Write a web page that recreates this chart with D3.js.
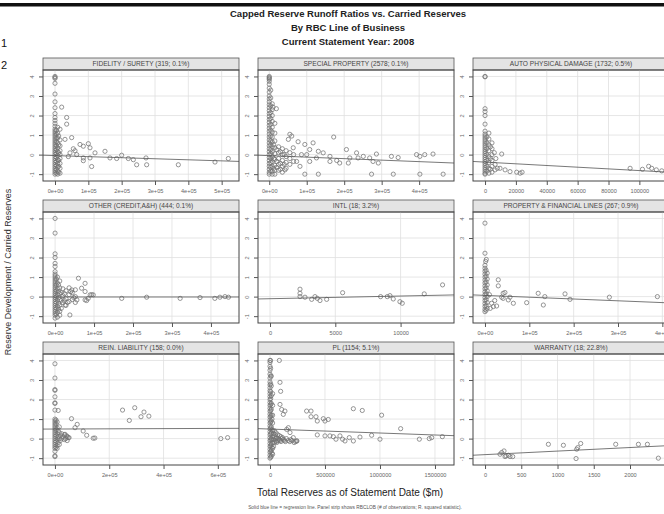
<!DOCTYPE html>
<html>
<head>
<meta charset="utf-8">
<script src="https://cdn.jsdelivr.net/npm/d3@7"></script>
<style>
  body { margin: 0; background: #fff; }
  svg { display: block; font-family: "Liberation Sans", Arial, sans-serif; }
</style>
</head>
<body>
<div id="chart"></div>
<script>
const WIDTH = 664;
const HEIGHT = 514;
const COL_X = [43, 258, 473];
const ROW_Y = [58, 200, 342];
const PANEL_W = 196;
const STRIP_H = 12;
const PLOT_H = 111;

// strip labels
const panelTitles = [
    "FIDELITY / SURETY (319; 0.1%)", "SPECIAL PROPERTY (2578; 0.1%)", "AUTO PHYSICAL DAMAGE (1732; 0.5%)",
    "OTHER (CREDIT,A&H) (444; 0.1%)", "INTL (18; 3.2%)", "PROPERTY & FINANCIAL LINES (267; 0.9%)",
    "REIN. LIABILITY (158; 0.0%)", "PL (1154; 5.1%)", "WARRANTY (18; 22.8%)"
];

const yTicks = [-1, 0, 1, 2, 3, 4];
const yTickLabels = ["-1", "0", "1", "2", "3", "4"];
const yLimits = [-1.35, 4.33];

const xLimits = [
    [-36000, 552000], [-30000, 493000], [-7800, 119200],
    [-31000, 472000], [-920, 14090], [-27000, 415000],
    [-44000, 678000], [-109000, 1673000], [-166, 2538]
];

const xTickValues = [
    [0, 1e5, 2e5, 3e5, 4e5, 5e5],
    [0, 1e5, 2e5, 3e5, 4e5],
    [0, 20000, 40000, 60000, 80000, 100000],
    [0, 1e5, 2e5, 3e5, 4e5],
    [0, 5000, 10000],
    [0, 1e5, 2e5, 3e5, 4e5],
    [0, 2e5, 4e5, 6e5],
    [0, 500000, 1000000, 1500000],
    [0, 500, 1000, 1500, 2000]
];

const xTickLabels = [
    ["0e+00", "1e+05", "2e+05", "3e+05", "4e+05", "5e+05"],
    ["0e+00", "1e+05", "2e+05", "3e+05", "4e+05"],
    ["0", "20000", "40000", "60000", "80000", "100000"],
    ["0e+00", "1e+05", "2e+05", "3e+05", "4e+05"],
    ["0", "5000", "10000"],
    ["0e+00", "1e+05", "2e+05", "3e+05", "4e+05"],
    ["0e+00", "2e+05", "4e+05", "6e+05"],
    ["0", "500000", "1000000", "1500000"],
    ["0", "500", "1000", "1500", "2000"]
];

// regression lines: y = a + b * x
const regIntercepts = [-0.05, -0.053, -0.384, -0.02, -0.107, 0.062, 0.49, 0.489, -0.82];
const regSlopes = [-5.4e-7, -7.65e-7, -4.33e-6, 0, 1.372e-5, -9.2e-7, 5.5e-8, -2.025e-7, 1.82e-4];

const fidelityPts = [
    [0,4],[0,3.95],[0,3.9],[0,3.65],[0,3.1],[0,2.7],[0,2.4],[0,2.1],[0,1.9],[0,1.75],[0,1.6],[0,1.45],
    [0,1.3],[0,1.2],[0,1.1],[0,1],[0,.9],[0,.8],[0,.7],[0,.6],[0,.5],[0,.4],[0,.3],[0,.2],[0,.1],[0,0],
    [0,-.1],[0,-.2],[0,-.3],[0,-.4],[0,-.5],[0,-.6],[0,-.7],[0,-.8],[0,-.9],[0,-1],
    [4000,1.25],[4000,1.05],[4000,.85],[4000,.65],[4000,.45],[4000,.25],[4000,.05],[4000,-.15],[4000,-.35],
    [4000,-.55],[4000,-.75],[4000,-.95],
    [8000,1.4],[8000,1.1],[8000,.85],[8000,.6],[8000,.35],[8000,.15],[8000,-.05],[8000,-.25],[8000,-.45],
    [8000,-.65],[8000,-.85],[8000,-1],
    [11000,.95],[11000,.5],[11000,.1],[11000,-.3],[11000,-.6],[11000,-.9],
    [15000,1.3],[15000,.75],[15000,.45],[15000,.2],[15000,0],[15000,-.2],[15000,-.45],[15000,-.7],[15000,-.95],
    [20000,2.43],[35000,1.9],[35000,1.56],[50000,.87],[30000,.78],[75000,.52],[100000,.56],[85000,.43],
    [105000,.35],[120000,.09],[150000,.17],[65000,0],[85000,-.17],[110000,-.61],[85000,-.31],[105000,-.17],
    [200000,-.03],[165000,-.17],[185000,-.2],[220000,-.2],[245000,-.52],[235000,-.26],[273000,-.17],
    [275000,-.52],[370000,-.52],[480000,-.38],[520000,-.2],[45000,.09],[55000,.3],[40000,-.1],[60000,.2]
];

const specialPts = [
    [0,4],[0,3.95],[0,3.9],[0,3.85],[0,3.75],[0,3.6],[0,3.4],[0,3.2],[0,3],[0,2.85],[0,2.7],[0,2.55],
    [0,2.4],[0,2.25],[0,2.1],[0,1.95],[0,1.8],[0,1.65],[0,1.5],[0,1.35],[0,1.2],[0,1.05],[0,.9],[0,.75],
    [0,.6],[0,.45],[0,.3],[0,.15],[0,0],[0,-.15],[0,-.3],[0,-.45],[0,-.6],[0,-.75],[0,-.9],[0,-1],
    [4000,3.3],[4000,2.9],[4000,2.5],[4000,2.15],[4000,1.85],[4000,1.55],[4000,1.25],[4000,.95],[4000,.7],
    [4000,.5],[4000,.25],[4000,.05],[4000,-.2],[4000,-.4],[4000,-.65],[4000,-.85],
    [8000,2.6],[8000,2.3],[8000,2],[8000,1.7],[8000,1.4],[8000,1.15],[8000,.9],[8000,.65],[8000,.4],
    [8000,.15],[8000,-.1],[8000,-.35],[8000,-.6],[8000,-.85],[8000,-1],
    [12000,.5],[12000,-.2],[12000,-.7],
    [15000,1.6],[15000,1.1],[15000,.7],[15000,.35],[15000,.05],[15000,-.25],[15000,-.55],[15000,-.8],[15000,-1],
    [20000,.25],[20000,-.35],[20000,-.65],[30000,.15],[30000,-.45],[30000,-.75],[40000,0],[40000,-.5],
    [25000,.4],[25000,.1],[25000,-.2],[25000,-.5],[25000,-.8],[35000,.3],[35000,0],[35000,-.3],[35000,-.6],
    [35000,-.9],[45000,.2],[45000,-.1],[45000,-.4],[45000,-.7],[55000,.1],[55000,-.2],[55000,-.5],[65000,0],
    [65000,-.35],
    [10000,2.43],[19000,2.35],[55000,1.04],[60000,.95],[51000,.78],[77000,.66],[95000,.52],[64000,.35],
    [86000,0],[73000,-.35],[108000,.26],[117000,.6],[131000,.17],[144000,.09],[126000,-.17],[82000,-.6],
    [42000,-.78],[100000,0],[108000,-.35],[162000,-.09],[172000,.9],[206000,.26],[233000,.09],[237000,-.17],
    [162000,-.35],[180000,-.3],[188000,-.43],[211000,-.43],[215000,-.17],[251000,-.09],[268000,-.17],
    [286000,.03],[277000,-.35],[291000,-.43],[326000,-.09],[344000,-.15],[393000,0],[415000,0],[437000,.03],
    [402000,-.09],
    [95000,-1],[131000,-1],[273000,-1],[331000,-1],[402000,-1],[464000,-1]
];

const autoPts = [
    [0,4],[0,3.98],[0,2.35],[0,2.2],[0,2],[0,1.56],[0,1.2],[0,1.05],[0,.95],[0,.85],[0,.75],[0,.65],
    [0,.55],[0,.45],[0,.35],[0,.25],[0,.15],[0,.05],[0,-.05],[0,-.15],[0,-.25],[0,-.35],[0,-.45],[0,-.55],
    [0,-.65],[0,-.75],[0,-.85],[0,-.95],[0,-1],
    [1200,.9],[1200,.6],[1200,.3],[1200,0],[1200,-.3],[1200,-.6],[1200,-.85],
    [2500,1.1],[2500,.8],[2500,.5],[2500,.2],[2500,-.1],[2500,-.4],[2500,-.7],[2500,-.95],
    [3500,.4],[3500,-.2],[3500,-.75],
    [4500,.6],[4500,.3],[4500,0],[4500,-.3],[4500,-.6],[4500,-.9],
    [6000,.1],[7000,-.2],[10800,.03],[6500,-.5],[8000,-.7],[6500,-.78],[9700,-.7],[13000,-.78],
    [16200,-.87],[20500,-.9],[22700,-.95],[24000,-.9],
    [94000,-.7],[102000,-.75],[106000,-.6],[108000,-.7],[111000,-.78],[114500,-.83]
];

const otherPts = [
    [0,4],[0,3.25],[0,2.19],[0,2],[0,1.7],[0,1.54],[0,1.28],[0,1.15],[0,1.05],[0,.95],[0,.85],[0,.75],
    [0,.65],[0,.55],[0,.45],[0,.35],[0,.25],[0,.15],[0,.05],[0,-.05],[0,-.15],[0,-.25],[0,-.35],[0,-.45],
    [0,-.55],[0,-.65],[0,-.75],[0,-.85],[0,-.95],[0,-1.1],
    [3000,.9],[3000,.6],[3000,.3],[3000,0],[3000,-.3],[3000,-.6],[3000,-.9],
    [6000,1],[6000,.7],[6000,.4],[6000,.1],[6000,-.2],[6000,-.5],[6000,-.8],[6000,-1.05],
    [9000,.6],[9000,.25],[9000,-.05],[9000,-.35],[9000,-.65],
    [12000,.8],[12000,.45],[12000,.15],[12000,-.15],[12000,-.45],[12000,-.75],[12000,-.95],
    [16000,.2],[16000,-.2],[16000,-.6],[24000,.15],[24000,-.2],[32000,-.3],[40000,.25],[48000,-.05],
    [20000,.4],[20000,.05],[20000,-.3],[28000,.3],[28000,-.1],[28000,-.45],[36000,.45],[36000,.1],
    [36000,-.25],[44000,.2],[44000,-.15],[52000,.35],[52000,0],[52000,-.3],
    [60000,.94],[77000,.68],[43000,.34],[68000,.43],[77000,.26],[90000,.09],[85000,-.09],[77000,-.17],
    [98000,.09],[81000,-.2],[38000,-.94],[56000,-.17],[26000,-.43],[94000,.1],
    [171000,-.09],[235000,-.03],[321000,-.09],[372000,-.05],[410000,-.09],[423000,-.03],[436000,0],[445000,-.03]
];

const intlPts = [
    [2296,.38],[2296,.17],[2296,0],[2679,-.03],[3189,-.14],[3444,0],[3622,-.09],[3826,-.2],[4337,-.14],
    [5561,.2],[8469,0],[8980,0],[9184,.05],[9439,-.12],[9949,-.26],[10128,-.34],[11811,.14],[13214,.6]
];

const propPts = [
    [0,3.76],[0,2.22],[3000,1.9],[1500,1.8],[0,1.6],[0,1.45],[0,1.3],[0,1.15],[0,1],[0,.85],[0,.7],
    [0,.55],[0,.4],[0,.25],[0,.1],[0,-.05],[0,-.2],[0,-.35],[0,-.5],[0,-.65],[0,-.77],
    [2500,1.35],[2500,1.05],[2500,.75],[2500,.45],[2500,.15],[2500,-.15],[2500,-.45],[2500,-.7],
    [5000,1.2],[5000,.9],[5000,.6],[5000,.3],[5000,0],[5000,-.3],[5000,-.6],
    [30000,.86],[30000,.55],[41000,.17],[45000,.21],[37600,-.03],[52600,-.17],[41000,-.09],[64000,-.34],
    [56400,-.03],[18800,-.51],[26300,-.48],[15000,-.34],[94000,-.31],[120000,.17],[135000,0],[131600,-.43],
    [180500,.14],[191800,-.14],[280500,-.03],[388800,0],[22000,-.2],[10000,.1],[12000,-.6]
];

const reinPts = [
    [0,3.83],[0,3.1],[0,2.51],[0,2.47],[0,2.14],[0,1.83],[0,1.8],[0,1.46],[12000,1.44],
    [0,1],[0,.9],[0,.8],[0,.7],[0,.6],[0,.5],[0,.4],[0,.3],[0,.2],[0,.1],[0,0],[0,-.1],[0,-.2],[0,-.3],
    [0,-.4],[0,-.5],[0,-.65],[0,-.88],[0,-.92],
    [4000,.95],[4000,.75],[4000,.45],[4000,.15],[4000,-.15],[4000,-.45],
    [8000,.85],[8000,.55],[8000,.25],[8000,-.05],[8000,-.35],[8000,-.5],
    [12000,.4],[12000,.1],[12000,-.2],
    [16000,.6],[16000,.3],[16000,0],[16000,-.3],
    [20000,.15],[20000,-.1],[30000,.1],[40000,0],
    [25000,.25],[25000,0],[35000,.2],[35000,-.05],[45000,.1],[45000,-.1],[52000,.05],
    [61000,1.02],[82000,.73],[74000,.56],[104000,.39],[117000,.17],[141000,.02],[147000,.03],[49000,.05],
    [43000,.14],[37000,.22],
    [249000,1.46],[274000,.93],[294000,1.58],[317000,1.12],[328000,1.36],[346000,1.15],[611000,0],[636000,.05]
];

const plPts = [
    [0,4],[5000,4],[0,3.9],[0,3.7],[0,3.5],[0,3.3],[0,3.1],[0,2.9],[0,2.75],[0,2.6],[0,2.45],[0,2.3],
    [0,2.15],[0,2],[0,1.85],[0,1.7],[0,1.55],[0,1.4],[0,1.25],[0,1.1],[0,.95],[0,.8],[0,.65],[0,.5],
    [0,.35],[0,.2],[0,.05],[0,-.1],[0,-.25],[0,-.4],[0,-.55],[0,-.7],[0,-.85],[0,-1],
    [6000,3.6],[6000,3.2],[6000,2.8],[6000,2.4],[6000,2.05],[6000,1.75],[6000,1.45],[6000,1.15],[6000,.85],
    [6000,.55],[6000,.25],[6000,-.05],[6000,-.35],[6000,-.65],[6000,-.95],
    [12000,3.2],[12000,2.7],[12000,2.2],[12000,1.8],[12000,1.5],[12000,1.2],[12000,.9],[12000,.6],
    [12000,.3],[12000,0],[12000,-.3],[12000,-.6],[12000,-.9],
    [18000,1],[18000,.45],[18000,-.05],[18000,-.45],[18000,-.75],
    [24000,2.3],[24000,1.7],[24000,1.2],[24000,.8],[24000,.4],[24000,.1],[24000,-.2],[24000,-.5],[24000,-.8],
    [32000,.25],[32000,-.05],[32000,-.4],[48000,.2],[48000,-.1],[62000,.05],[62000,-.2],[78000,0],
    [92000,-.1],[108000,0],[122000,-.05],[140000,-.15],[190000,-.05],[232000,-.15],
    [40000,.4],[40000,.1],[40000,-.2],[55000,.3],[55000,0],[55000,-.15],[70000,.2],[70000,-.1],[85000,.15],
    [85000,-.05],[100000,.1],[100000,-.15],[115000,.05],[130000,-.1],[150000,0],[165000,-.1],[180000,-.15],
    [200000,-.1],[220000,-.2],[245000,-.12],
    [85000,4],[91000,2.88],[97000,2.42],[91000,1.75],[106000,1.49],[136000,1.41],[121000,1.24],[152000,.47],
    [167000,.56],[182000,.31],[212000,.05],[242000,-.12],
    [333000,1.41],[373000,1.41],[373000,1.12],[418000,1.12],[430000,.9],[485000,1.02],[530000,.98],[500000,.9],
    [430000,.19],[500000,.14],[545000,.14],[576000,.1],[600000,-.03],[636000,.14],[660000,-.03],[682000,-.12],
    [721000,.05],[758000,-.12],[818000,.08],[924000,.17],[1000000,-.03],
    [758000,1.53],[839000,1.44],[1015000,1.2],[1188000,.51],[1358000,-.03],[1448000,0],[1470000,.05],[1567000,.1]
];

const warrantyPts = [
    [207,-.8],[230,-.71],[262,-.63],[290,-.88],[322,-.85],[345,-.92],[382,-.92],[276,-.92],[874,-.29],
    [1081,-.34],[1320,-.25],[1279,-.46],[1265,-.54],[1256,-1.02],[1803,-.29],[2116,-.29],[2240,-.29],[2391,-1]
];

const panelPoints = [fidelityPts, specialPts, autoPts, otherPts, intlPts, propPts, reinPts, plPts, warrantyPts];

drawChart();

function drawChart() {
    const svg = d3.select("#chart")
        .append("svg")
        .attr("width", WIDTH)
        .attr("height", HEIGHT);

    svg.append("rect").attr("width", WIDTH).attr("height", HEIGHT).attr("fill", "#fff");

    // black rule across the top of the page
    svg.append("rect").attr("x", 0).attr("y", 3).attr("width", WIDTH).attr("height", 3.5).attr("fill", "#111");

    const titles = ["Capped Reserve Runoff Ratios vs. Carried Reserves", "By RBC Line of Business", "Current Statement Year: 2008"];
    svg.selectAll("text.title")
        .data(titles)
        .enter()
        .append("text")
        .attr("class", "title")
        .attr("x", 348)
        .attr("y", function (d, i) { return 17 + i * 14; })
        .attr("text-anchor", "middle")
        .attr("font-size", 9.5)
        .attr("font-weight", "bold")
        .attr("fill", "#222")
        .text(function (d) { return d; });

    svg.append("text").attr("x", 1).attr("y", 47).attr("font-size", 11).attr("fill", "#111").text("1");
    svg.append("text").attr("x", 1).attr("y", 69).attr("font-size", 11).attr("fill", "#111").text("2");

    svg.append("text")
        .attr("transform", "translate(11,272) rotate(-90)")
        .attr("text-anchor", "middle")
        .attr("font-size", 9)
        .attr("fill", "#333")
        .text("Reserve Development / Carried Reserves");

    svg.append("text")
        .attr("x", 350).attr("y", 496)
        .attr("text-anchor", "middle")
        .attr("font-size", 10)
        .attr("fill", "#222")
        .text("Total Reserves as of Statement Date ($m)");

    svg.append("text")
        .attr("x", 355).attr("y", 509)
        .attr("text-anchor", "middle")
        .attr("font-size", 4.8)
        .attr("fill", "#555")
        .text("Solid blue line = regression line. Panel strip shows RBCLOB (# of observations; R. squared statistic).");

    panelTitles.forEach(function (title, i) {
        drawPanel(svg, i);
    });
}

function drawPanel(svg, i) {
    const col = i % 3;
    const row = Math.floor(i / 3);
    const g = svg.append("g").attr("transform", "translate(" + COL_X[col] + "," + ROW_Y[row] + ")");

    g.append("rect")
        .attr("width", PANEL_W).attr("height", STRIP_H)
        .attr("fill", "#e4e4e4").attr("stroke", "#555").attr("stroke-width", 0.8);
    g.append("text")
        .attr("x", PANEL_W / 2).attr("y", STRIP_H / 2 + 2.3)
        .attr("text-anchor", "middle")
        .attr("font-size", 6.6)
        .attr("fill", "#444")
        .text(panelTitles[i]);

    const p = g.append("g").attr("transform", "translate(0," + STRIP_H + ")");

    const x = d3.scaleLinear().domain(xLimits[i]).range([0, PANEL_W]);
    const y = d3.scaleLinear().domain(yLimits).range([PLOT_H, 0]);

    const clipId = "clip" + i;
    p.append("clipPath").attr("id", clipId)
        .append("rect").attr("width", PANEL_W).attr("height", PLOT_H);

    const inner = p.append("g").attr("clip-path", "url(#" + clipId + ")");

    inner.selectAll("line.vg")
        .data(xTickValues[i])
        .enter().append("line")
        .attr("x1", function (d) { return x(d); }).attr("x2", function (d) { return x(d); })
        .attr("y1", 0).attr("y2", PLOT_H)
        .attr("stroke", "#e0e0e0").attr("stroke-width", 0.8);

    inner.selectAll("line.hg")
        .data(yTicks)
        .enter().append("line")
        .attr("x1", 0).attr("x2", PANEL_W)
        .attr("y1", function (d) { return y(d); }).attr("y2", function (d) { return y(d); })
        .attr("stroke", "#e0e0e0").attr("stroke-width", 0.8);

    inner.selectAll("circle")
        .data(panelPoints[i])
        .enter().append("circle")
        .attr("cx", function (d) { return x(d[0]); })
        .attr("cy", function (d) { return y(d[1]); })
        .attr("r", 2.1)
        .attr("fill", "none")
        .attr("stroke", "#737373")
        .attr("stroke-width", 0.75);

    const xs = xLimits[i];
    inner.append("line")
        .attr("x1", x(xs[0])).attr("x2", x(xs[1]))
        .attr("y1", y(regIntercepts[i] + regSlopes[i] * xs[0]))
        .attr("y2", y(regIntercepts[i] + regSlopes[i] * xs[1]))
        .attr("stroke", "#555").attr("stroke-width", 0.8);

    p.append("rect")
        .attr("width", PANEL_W).attr("height", PLOT_H)
        .attr("fill", "none").attr("stroke", "#444").attr("stroke-width", 1);

    const xAxis = p.append("g")
        .attr("transform", "translate(0," + PLOT_H + ")")
        .call(d3.axisBottom(x)
            .tickValues(xTickValues[i])
            .tickFormat(function (d, k) { return xTickLabels[i][k]; })
            .tickSize(4).tickPadding(4.5));
    xAxis.select(".domain").remove();
    xAxis.selectAll("line").attr("stroke", "#555");
    xAxis.selectAll("text").attr("font-size", 5.6).attr("fill", "#666").attr("font-family", "Liberation Sans, Arial, sans-serif");

    const yAxis = p.append("g")
        .call(d3.axisLeft(y)
            .tickValues(yTicks)
            .tickFormat(function (d, k) { return yTickLabels[k]; })
            .tickSize(4));
    yAxis.select(".domain").remove();
    yAxis.selectAll("line").attr("stroke", "#555");
    yAxis.selectAll("text")
        .attr("x", null).attr("dy", null)
        .attr("transform", "translate(-9,0) rotate(-90)")
        .attr("text-anchor", "middle")
        .attr("font-size", 5.6)
        .attr("fill", "#666")
        .attr("font-family", "Liberation Sans, Arial, sans-serif");
}
</script>
</body>
</html>
